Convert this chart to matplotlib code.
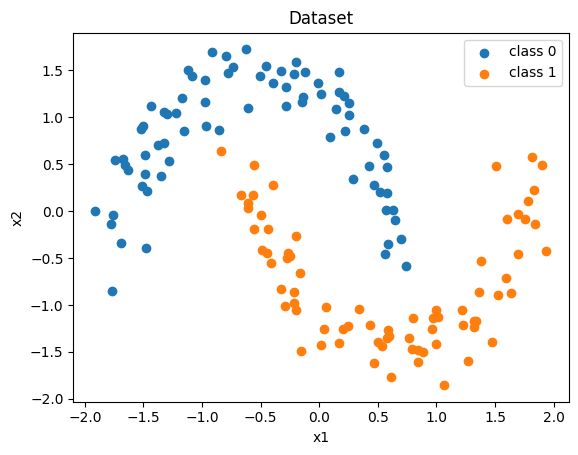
import matplotlib
matplotlib.use("Agg")
import matplotlib.pyplot as plt
import numpy as np

# class 0 (upper moon)
x0 = [-0.913, -0.796, -0.781, -1.118, -1.089, -0.975, -1.169, -0.973, -1.433, -1.323,
      -1.297, -1.220, -1.504, -1.519, -1.152, -0.967, -0.853, -1.376, -1.328, -1.741,
      -1.675, -1.660, -1.630, -1.490, -1.280, -1.490, -1.348, -1.513, -1.473, -1.911,
      -1.758, -1.775, -1.689, -1.481, -1.766, -0.623, -0.734, -0.452, -0.503, -0.327,
      -0.196, -0.213, -0.119, -0.392, -0.282, -0.011, 0.171, 0.017, 0.168, 0.213,
      0.256, -0.137, -0.145, -0.606, -0.282, 0.145, 0.253, 0.222, 0.381, 0.094,
      0.495, 0.555, 0.421, 0.580, 0.290, 0.469, 0.515, 0.580, 0.569, 0.625,
      0.646, 0.700, 0.584, 0.562, 0.742]
y0 = [1.695, 1.654, 1.465, 1.500, 1.433, 1.390, 1.199, 1.156, 1.114, 1.053,
      1.029, 1.043, 0.901, 0.869, 0.848, 0.901, 0.862, 0.705, 0.720, 0.543,
      0.553, 0.493, 0.433, 0.593, 0.529, 0.390, 0.369, 0.263, 0.216, -0.003,
      -0.046, -0.141, -0.344, -0.397, -0.854, 1.720, 1.529, 1.539, 1.433, 1.486,
      1.582, 1.454, 1.476, 1.359, 1.316, 1.359, 1.476, 1.241, 1.266, 1.223,
      1.146, 1.213, 1.163, 1.093, 1.114, 1.082, 1.018, 0.851, 0.872, 0.784,
      0.720, 0.593, 0.476, 0.465, 0.337, 0.277, 0.205, 0.188, 0.007, 0.007,
      -0.099, -0.301, -0.354, -0.457, -0.588]

# class 1 (lower moon)
x1 = [-0.836, -0.555, -0.392, -0.671, -0.563, -0.606, -0.606, -0.500, -0.555, -0.440,
      -0.201, -0.486, -0.449, -0.410, -0.265, -0.278, -0.250, -0.162, -0.327, -0.218,
      -0.290, -0.218, -0.196, 0.060, 0.341, 0.043, 0.202, 0.247, 0.435, 0.017,
      0.171, -0.154, 0.503, 0.532, 0.469, 0.589, 0.597, 0.580, 0.614, 0.802,
      0.973, 1.010, 0.998, 1.220, 0.964, 1.229, 1.323, 1.340, 1.317, 0.768,
      0.998, 1.476, 0.791, 0.845, 0.882, 0.845, 1.271, 1.067, 1.382, 1.365,
      1.527, 1.633, 1.596, 1.698, 1.937, 1.604, 1.698, 1.755, 1.843, 1.782,
      1.832, 1.508, 1.815, 1.900]
y1 = [0.635, 0.486, 0.273, 0.167, 0.167, 0.086, 0.029, -0.046, -0.195, -0.195,
      -0.269, -0.418, -0.450, -0.556, -0.450, -0.503, -0.476, -0.663, -0.833, -0.865,
      -1.014, -0.982, -1.056, -1.024, -1.046, -1.259, -1.252, -1.227, -1.216, -1.429,
      -1.407, -1.493, -1.397, -1.436, -1.620, -1.269, -1.333, -1.351, -1.771, -1.141,
      -1.141, -1.131, -1.056, -1.056, -1.259, -1.216, -1.173, -1.173, -1.237, -1.354,
      -1.418, -1.397, -1.471, -1.482, -1.497, -1.610, -1.599, -1.854, -0.535, -0.865,
      -0.897, -0.876, -0.716, -0.461, -0.429, -0.085, -0.035, -0.090, -0.141, 0.107,
      0.220, 0.476, 0.571, 0.486]

fig = plt.figure(figsize=(5.78, 4.55), dpi=100)
ax = fig.add_axes([0.1268, 0.1171, 0.8576, 0.811])
ax.scatter(x0, y0, label="class 0")
ax.scatter(x1, y1, label="class 1")
ax.set_xlim(-2.099, 2.131)
ax.set_ylim(-2.029, 1.897)
ax.set_title("Dataset")
ax.set_xlabel("x1")
ax.set_ylabel("x2")
ax.legend()
fig.savefig("out.png", dpi=100)
